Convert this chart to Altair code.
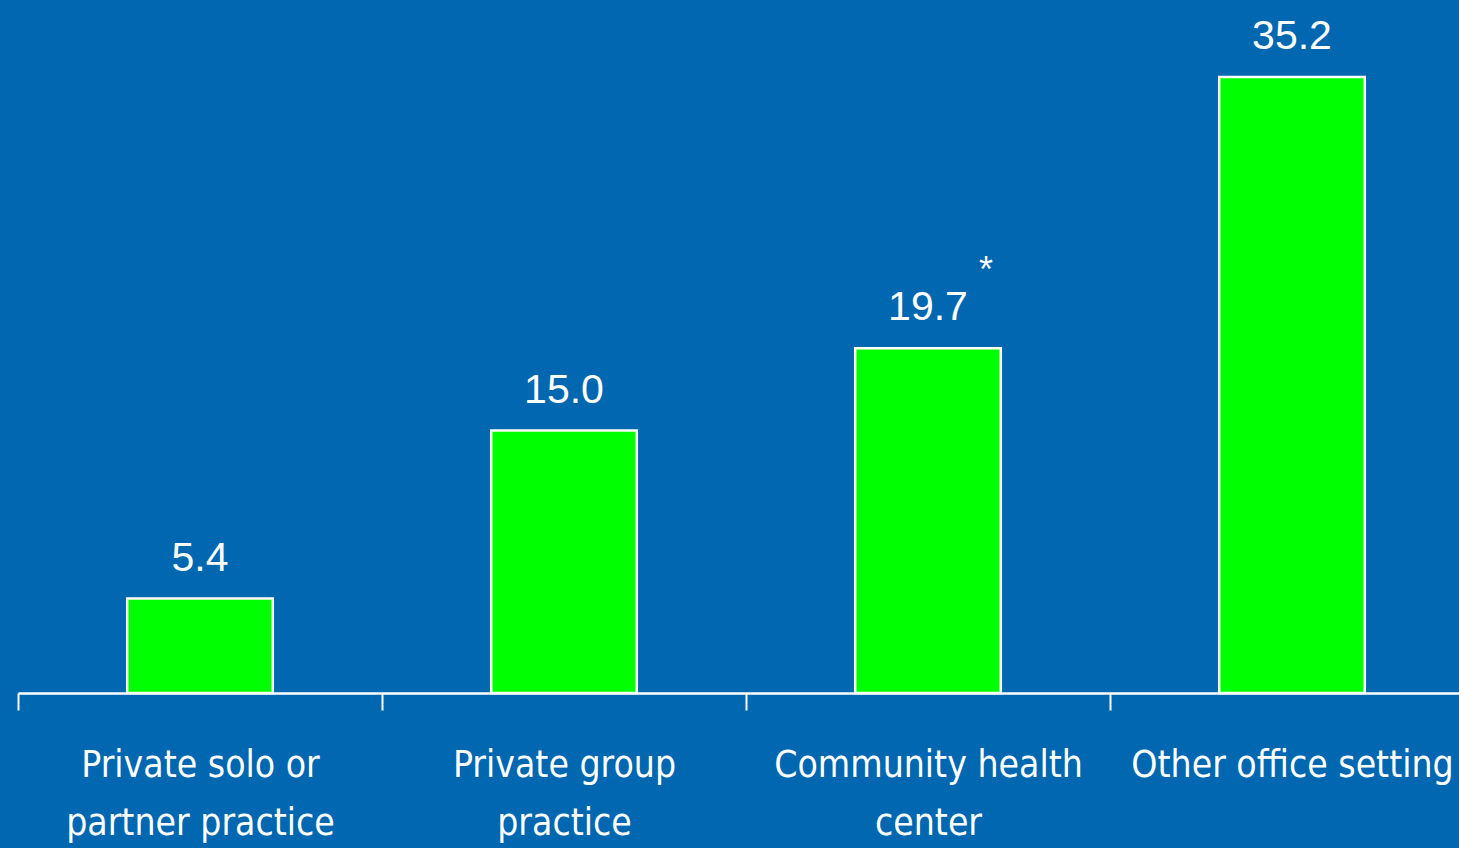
import altair as alt
import pandas as pd

categories = ["Private solo or|partner practice", "Private group|practice",
              "Community health|center", "Other office setting"]
values = [5.4, 15.0, 19.7, 35.2]
notes = ["", "", "*", ""]

df = pd.DataFrame({"cat": categories, "val": values, "note": notes})

AXFONT = "DejaVu Sans Condensed"
FONT = "Liberation Sans"

x = alt.X("cat:N", sort=categories, title=None,
          scale=alt.Scale(range=[0, 1456], paddingInner=0.6, paddingOuter=0.3),
          axis=alt.Axis(labelAngle=0, labelExpr="split(datum.label, '|')",
                        labelFont=AXFONT, labelFontSize=37, labelColor="white",
                        labelLineHeight=58, labelBaseline="top", labelPadding=37,
                        labelLimit=500, labelOffset=182,
                        domainColor="white", domainWidth=2.5,
                        tickColor="white", tickWidth=2, tickSize=17,
                        tickOffset=-182))
y = alt.Y("val:Q", title=None, scale=alt.Scale(domain=[0, 39.6], nice=False),
          axis=None)

bars = alt.Chart(df).mark_bar(color="#00FF00", stroke="white", strokeWidth=2.5).encode(x=x, y=y)
labels = alt.Chart(df).mark_text(font=FONT, fontSize=41, color="white",
                                 baseline="alphabetic", dy=-28).encode(
    x=x, y=y, text=alt.Text("val:Q", format=".1f"))
stars = alt.Chart(df).mark_text(font=FONT, fontSize=36, color="white",
                                baseline="alphabetic", dx=58, dy=-66).encode(
    x=x, y=y, text="note:N")

chart = alt.layer(bars, labels, stars).properties(
    width=1441, height=693,
    autosize=alt.AutoSizeParams(type="none"),
    padding={"left": 18, "top": 0, "right": 0, "bottom": 155},
    background="#0067B0",
).configure_view(stroke=None)

chart.save("out.html", embed_options={"renderer": "svg", "actions": False})
